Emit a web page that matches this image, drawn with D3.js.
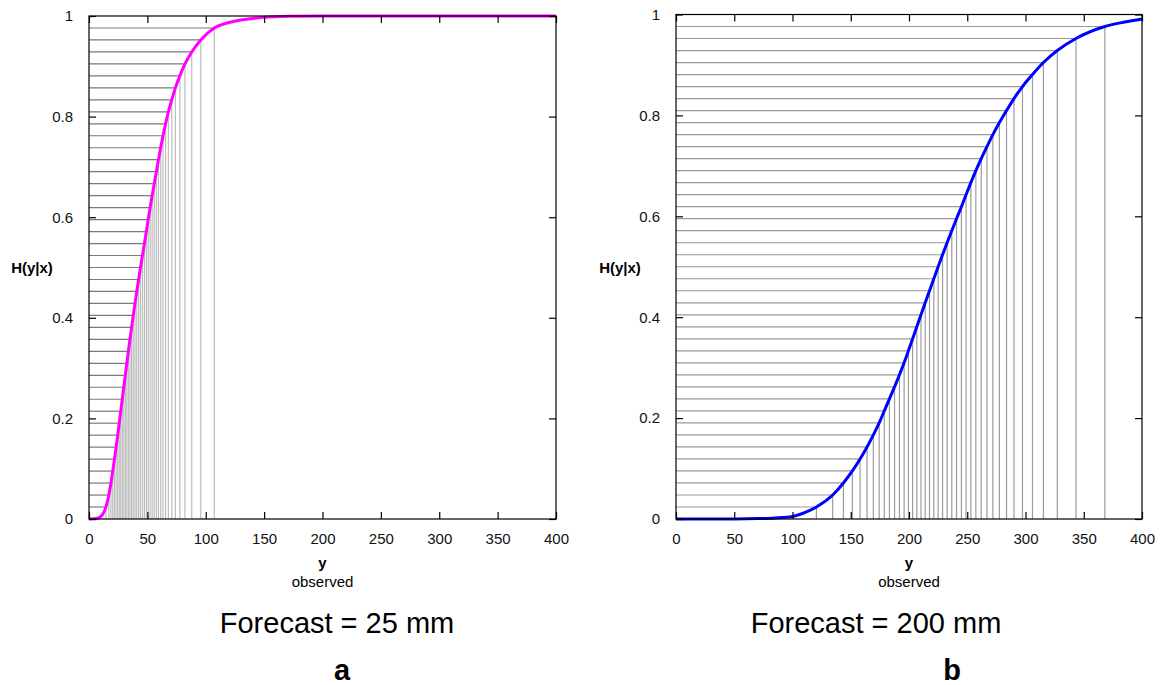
<!DOCTYPE html>
<html>
<head>
<meta charset="utf-8">
<script src="https://cdn.jsdelivr.net/npm/d3@7"></script>
<style>
  html, body { margin: 0; padding: 0; background: #fff; }
  svg { display: block; font-family: "Liberation Sans", Arial, sans-serif; }
</style>
</head>
<body>
<svg id="chart" width="1160" height="685"></svg>
<script>
// ---- Data ----
const xTicks = [0, 50, 100, 150, 200, 250, 300, 350, 400];
const yTicks = [0, 0.2, 0.4, 0.6, 0.8, 1];
const yTickLabels = ["0", "0.2", "0.4", "0.6", "0.8", "1"];

// probability levels of the sampled quantiles (41 equally spaced levels)
const levels = [1/42, 2/42, 3/42, 4/42, 5/42, 6/42, 7/42, 8/42, 9/42, 10/42,
  11/42, 12/42, 13/42, 14/42, 15/42, 16/42, 17/42, 18/42, 19/42, 20/42,
  21/42, 22/42, 23/42, 24/42, 25/42, 26/42, 27/42, 28/42, 29/42, 30/42,
  31/42, 32/42, 33/42, 34/42, 35/42, 36/42, 37/42, 38/42, 39/42, 40/42, 41/42];

// panel a: Forecast = 25 mm — quantile positions (observed y)
const quantA = [14.5, 17.0, 18.8, 20.3, 21.8, 23.2, 24.6, 25.9, 27.2, 28.5,
  29.8, 31.1, 32.4, 33.7, 35.1, 36.5, 37.9, 39.4, 40.9, 42.5,
  44.1, 45.8, 47.5, 49.1, 50.7, 52.4, 54.1, 55.9, 57.7, 59.5,
  61.4, 63.4, 65.6, 68.0, 70.9, 74.0, 77.8, 82.2, 88.0, 95.7, 107.3];
const headAx = [0, 4, 8, 11, 12.8];
const headAh = [0, 0.0004, 0.002, 0.007, 0.014];
const tailAx = [120, 130, 140, 150, 170, 200, 250, 400];
const tailAh = [0.987, 0.992, 0.995, 0.9975, 0.9995, 1, 1, 1];

// panel b: Forecast = 200 mm
const quantB = [120.5, 134.5, 143.7, 151.4, 158.0, 164.0, 169.4, 174.4, 178.8, 183.2,
  187.6, 191.8, 195.8, 199.5, 203.1, 206.7, 210.3, 213.9, 217.6, 221.3,
  225.0, 228.8, 232.7, 236.7, 240.8, 245.0, 249.0, 253.1, 257.4, 262.0,
  266.9, 272.0, 277.6, 283.7, 290.1, 297.4, 306.0, 315.4, 327.3, 343.3, 368.1];
const headBx = [0, 50, 70, 85, 100, 112];
const headBh = [0, 0.0002, 0.0008, 0.002, 0.005, 0.014];
const tailBx = [385, 400];
const tailBh = [0.985, 0.991];

const panels = [
  { quant: quantA, hx: headAx, hh: headAh, tx: tailAx, th: tailAh,
    color: "#ff00ff", hColor: "#7a7a7a", vColor: "#bcbcbc",
    left: 89, right: 556, top: 16, bottom: 519,
    ylabX: 32, title: "Forecast = 25 mm", titleX: 337, letter: "a", letterX: 342 },
  { quant: quantB, hx: headBx, hh: headBh, tx: tailBx, th: tailBh,
    color: "#0000ff", hColor: "#999999", vColor: "#9c9c9c",
    left: 676, right: 1142, top: 14.5, bottom: 519,
    ylabX: 620, title: "Forecast = 200 mm", titleX: 876, letter: "b", letterX: 952 }
];

const svg = d3.select("#chart");

panels.forEach(p => {
  const x = d3.scaleLinear().domain([0, 400]).range([p.left, p.right]);
  const y = d3.scaleLinear().domain([0, 1]).range([p.bottom, p.top]);
  const g = svg.append("g");

  // horizontal quantile lines (axis -> curve)
  g.selectAll("line.h").data(p.quant).enter().append("line")
    .attr("x1", x(0)).attr("x2", d => x(d))
    .attr("y1", (d, i) => y(levels[i])).attr("y2", (d, i) => y(levels[i]))
    .attr("stroke", p.hColor).attr("stroke-width", 1.2);
  // vertical quantile lines (curve -> axis)
  g.selectAll("line.v").data(p.quant).enter().append("line")
    .attr("x1", d => x(d)).attr("x2", d => x(d))
    .attr("y1", (d, i) => y(levels[i])).attr("y2", y(0))
    .attr("stroke", p.vColor).attr("stroke-width", 1.2);

  // curve
  const pts = [];
  p.hx.forEach((v, i) => pts.push([v, p.hh[i]]));
  p.quant.forEach((v, i) => pts.push([v, levels[i]]));
  p.tx.forEach((v, i) => pts.push([v, p.th[i]]));
  const line = d3.line().x(d => x(d[0])).y(d => y(d[1])).curve(d3.curveMonotoneX);
  g.append("path").datum(pts).attr("d", line)
    .attr("fill", "none").attr("stroke", p.color).attr("stroke-width", 3)
    .attr("stroke-linejoin", "round");

  // frame
  g.append("rect").attr("x", p.left).attr("y", p.top)
    .attr("width", p.right - p.left).attr("height", p.bottom - p.top)
    .attr("fill", "none").attr("stroke", "#000").attr("stroke-width", 1.2);

  // axes with inward ticks and mirrored ticks
  const axB = d3.axisBottom(x).tickValues(xTicks).tickSize(-7).tickPadding(14).tickFormat(d3.format("d"));
  const axT = d3.axisTop(x).tickValues(xTicks).tickSize(-7).tickFormat("");
  const axL = d3.axisLeft(y).tickValues(yTicks).tickSize(-7).tickPadding(16)
    .tickFormat((d, i) => yTickLabels[i]);
  const axR = d3.axisRight(y).tickValues(yTicks).tickSize(-7).tickFormat("");

  [[axB, `translate(0,${p.bottom})`], [axT, `translate(0,${p.top})`],
   [axL, `translate(${p.left},0)`], [axR, `translate(${p.right},0)`]].forEach(([ax, tr]) => {
    const a = g.append("g").attr("transform", tr).call(ax);
    a.select(".domain").remove();
    a.selectAll(".tick line").attr("stroke", "#000").attr("stroke-width", 1.2);
    a.selectAll("text").attr("font-size", 15).attr("fill", "#111")
      .attr("font-family", "'Liberation Sans', Arial, sans-serif");
  });

  const cx = (p.left + p.right) / 2;
  g.append("text").attr("x", p.ylabX).attr("y", 273).attr("text-anchor", "middle")
    .attr("font-size", 15).attr("font-weight", "bold").text("H(y|x)");
  g.append("text").attr("x", cx).attr("y", 568).attr("text-anchor", "middle")
    .attr("font-size", 15).attr("font-weight", "bold").text("y");
  g.append("text").attr("x", cx).attr("y", 587).attr("text-anchor", "middle")
    .attr("font-size", 15).text("observed");
  g.append("text").attr("x", p.titleX).attr("y", 633).attr("text-anchor", "middle")
    .attr("font-size", 29).text(p.title);
  g.append("text").attr("x", p.letterX).attr("y", 680).attr("text-anchor", "middle")
    .attr("font-size", 29).attr("font-weight", "bold").text(p.letter);
});
</script>
</body>
</html>
